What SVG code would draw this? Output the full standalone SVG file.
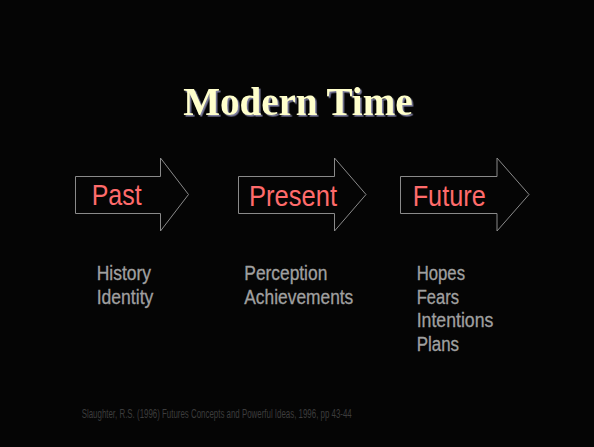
<svg xmlns="http://www.w3.org/2000/svg" width="594" height="447" viewBox="0 0 594 447">
<defs>
<filter id="shadow" x="-10%" y="-20%" width="120%" height="150%">
<feDropShadow dx="1.6" dy="1.6" stdDeviation="0.3" flood-color="#7f7fa0" flood-opacity="1"/>
</filter>
</defs>
<style>
.arrow{fill:none;stroke:#8a8a8a;stroke-width:1}
.lbl{font-family:"Liberation Sans",Arial,sans-serif;font-size:30px;fill:#ff6b6b}
.sub{font-family:"Liberation Sans",Arial,sans-serif;font-size:19.5px;fill:#a0a0a0;stroke:#a0a0a0;stroke-width:0.3}
.title{font-family:"Liberation Serif","Times New Roman",serif;font-size:39px;font-weight:bold;fill:#ffffcc;filter:url(#shadow)}
.foot{font-family:"Liberation Sans",Arial,sans-serif;font-size:13px;fill:#3c3c3c}
</style>
<rect width="594" height="447" fill="#050505"/>
<g id="title">
<text class="title" x="297.8" y="115" text-anchor="middle">Modern Time</text>
</g>
<g id="past">
<polygon class="arrow" points="75.5,176.5 160.5,176.5 160.5,158 188.5,194.5 160.5,231 160.5,213.5 75.5,213.5"/>
<text class="lbl" x="91.7" y="205" textLength="50" lengthAdjust="spacingAndGlyphs">Past</text>
</g>
<g id="present">
<polygon class="arrow" points="238.5,176.5 334.5,176.5 334.5,158 366,194.5 334.5,231 334.5,213.5 238.5,213.5"/>
<text class="lbl" x="249" y="205.5" textLength="88" lengthAdjust="spacingAndGlyphs">Present</text>
</g>
<g id="future">
<polygon class="arrow" points="400.5,176.5 497,176.5 497,158 529,194.5 497,231 497,213.5 400.5,213.5"/>
<text class="lbl" x="412.7" y="205.5" textLength="73" lengthAdjust="spacingAndGlyphs">Future</text>
</g>
<g id="past-notes">
<text class="sub" x="96.7" y="280" textLength="54.3" lengthAdjust="spacingAndGlyphs">History</text>
<text class="sub" x="96.7" y="303.5" textLength="56.6" lengthAdjust="spacingAndGlyphs">Identity</text>
</g>
<g id="present-notes">
<text class="sub" x="244.3" y="280" textLength="83" lengthAdjust="spacingAndGlyphs">Perception</text>
<text class="sub" x="244.3" y="303.5" textLength="109" lengthAdjust="spacingAndGlyphs">Achievements</text>
</g>
<g id="future-notes">
<text class="sub" x="416.7" y="280" textLength="48.3" lengthAdjust="spacingAndGlyphs">Hopes</text>
<text class="sub" x="416.7" y="303.5" textLength="42.3" lengthAdjust="spacingAndGlyphs">Fears</text>
<text class="sub" x="416.7" y="327" textLength="76.6" lengthAdjust="spacingAndGlyphs">Intentions</text>
<text class="sub" x="416.7" y="350.5" textLength="42.3" lengthAdjust="spacingAndGlyphs">Plans</text>
</g>
<g id="footer">
<text class="foot" x="81.7" y="418.3" textLength="270" lengthAdjust="spacingAndGlyphs">Slaughter, R.S. (1996) Futures Concepts and Powerful Ideas, 1996, pp 43-44</text>
</g>
<g id="connectors"/>
</svg>
